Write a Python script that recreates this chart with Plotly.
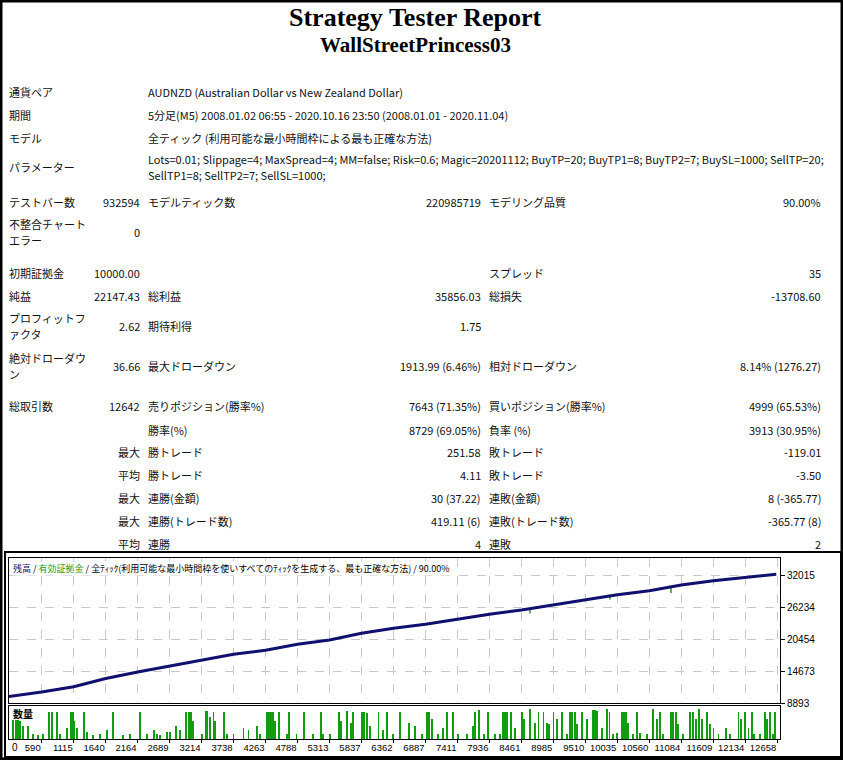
import plotly.graph_objects as go

W, H = 843, 760

# ---- report header data ----
title = 'Strategy Tester Report'
subtitle = 'WallStreetPrincess03'

info_labels = ['通貨ペア', '期間', 'モデル', 'パラメーター']
info_values = [
    'AUDNZD (Australian Dollar vs New Zealand Dollar)',
    '5分足(M5) 2008.01.02 06:55 - 2020.10.16 23:50 (2008.01.01 - 2020.11.04)',
    '全ティック (利用可能な最小時間枠による最も正確な方法)',
    'Lots=0.01; Slippage=4; MaxSpread=4; MM=false; Risk=0.6; Magic=20201112; BuyTP=20; BuyTP1=8; BuyTP2=7; BuySL=1000; SellTP=20;\n'
    'SellTP1=8; SellTP2=7; SellSL=1000;',
]

col1_labels = ['テストバー数', '不整合チャート\nエラー', '初期証拠金', '純益', 'プロフィットフ\nァクタ',
               '絶対ドローダウ\nン', '総取引数', '', '', '', '', '', '']
col1_values = ['932594', '0', '10000.00', '22147.43', '2.62', '36.66', '12642', '',
               '最大', '平均', '最大', '最大', '平均']
col2_labels = ['モデルティック数', '', '', '総利益', '期待利得', '最大ドローダウン', '売りポジション(勝率%)',
               '勝率(%)', '勝トレード', '勝トレード', '連勝(金額)', '連勝(トレード数)', '連勝']
col2_values = ['220985719', '', '', '35856.03', '1.75', '1913.99 (6.46%)', '7643 (71.35%)',
               '8729 (69.05%)', '251.58', '4.11', '30 (37.22)', '419.11 (6)', '4']
col3_labels = ['モデリング品質', '', 'スプレッド', '総損失', '', '相対ドローダウン', '買いポジション(勝率%)',
               '負率 (%)', '敗トレード', '敗トレード', '連敗(金額)', '連敗(トレード数)', '連敗']
col3_values = ['90.00%', '', '35', '-13708.60', '', '8.14% (1276.27)', '4999 (65.53%)',
               '3913 (30.95%)', '-119.01', '-3.50', '8 (-365.77)', '-365.77 (8)', '2']

# ---- chart data ----
bal_trades = [0, 590, 1115, 1640, 2164, 2689, 3214, 3738, 4263, 4788, 5313, 5837, 6362,
              6887, 7411, 7936, 8461, 8985, 9510, 10035, 10560, 11084, 11609, 12134, 12642]
bal_values = [10000, 10880, 11840, 13320, 14490, 15580, 16610, 17690, 18410, 19500, 20270, 21480, 22390,
              23110, 24010, 24920, 25690, 26600, 27500, 28460, 29180, 30210, 30990, 31600, 32147]

dip_trades = [8602, 9914, 10915]
dip_from = [25870, 28220, 30030]
dip_to = [25060, 27590, 28760]

vol_trades = [125, 163, 202, 240, 289, 371, 453, 535, 617, 716, 760, 836, 891, 1000, 1066, 1099,
              1121, 1165, 1285, 1328, 1438, 1547, 1657, 1766, 1930, 2039, 2203, 2313, 2433, 2477,
              2531, 2641, 2695, 2794, 2859, 2958, 3002, 3045, 3078, 3215, 3286, 3308, 3352, 3407,
              3434, 3582, 3625, 3735, 3899, 3981, 4117, 4172, 4281, 4314, 4347, 4390, 4423, 4478,
              4609, 4653, 4773, 4894, 5047, 5167, 5211, 5320, 5463, 5495, 5594, 5659, 5692, 5845,
              5878, 5922, 5976, 6118, 6195, 6250, 6359, 6468, 6621, 6709, 6824, 6917, 6950, 6988,
              7098, 7180, 7245, 7344, 7426, 7563, 7661, 7699, 7770, 7847, 7918, 8028, 8110, 8153,
              8192, 8230, 8285, 8356, 8465, 8503, 8602, 8684, 8739, 8821, 8875, 8919, 8985, 9039,
              9121, 9203, 9258, 9285, 9340, 9378, 9449, 9531, 9641, 9668, 9696, 9778, 9860, 9904,
              9958, 10024, 10106, 10144, 10177, 10215, 10297, 10352, 10407, 10516, 10625, 10680,
              10735, 10789, 10910, 10953, 10997, 11035, 11117, 11227, 11270, 11325, 11380, 11418,
              11500, 11555, 11610, 11692, 11818, 11883, 12020, 12058, 12129, 12184, 12239, 12277,
              12375, 12457, 12485, 12540, 12583, 12622]
vol_values = [4.2, 4.2, 4.2, 4.0, 2.8, 2.8, 1.2, 0.8, 1.0, 6, 6, 6, 1.2, 2.4, 6, 6,
              4, 2.4, 6, 1.6, 0.8, 1.2, 2, 6, 0.8, 1, 6, 1.2, 2, 1.2,
              0.8, 1.6, 1.6, 2.8, 2, 6, 6, 6, 4, 1, 6.2, 6.2, 4.8, 6,
              4, 6, 1.2, 1, 2.4, 2, 2.8, 1.2, 6, 6, 6, 6, 4, 6,
              1.2, 6, 1, 6, 1, 6, 1.2, 1.2, 6, 4, 6.2, 3.6, 6, 6,
              6, 5.6, 2.8, 6, 2, 6, 1.2, 6, 3.6, 2.8, 1, 6, 6, 4.4,
              1, 2.4, 6, 6, 1, 1, 2.8, 6, 6.4, 1.2, 6, 1, 1.2, 6,
              6, 6, 6, 2.4, 6, 4.4, 6.6, 3.6, 6, 6, 3.6, 3.2, 6, 4.4,
              6, 1, 6, 6, 6, 3.2, 6, 4.4, 6.4, 6.4, 6.2, 2.4, 6.6, 6,
              1.2, 1.4, 6, 6, 6, 3.6, 1, 6, 1.4, 1, 6.6, 4.4,
              6, 1, 6, 6, 6, 3.2, 1, 6, 6, 4.4, 6.6, 4.4,
              6, 3.2, 2.4, 1, 2.4, 1, 6, 4.4, 6, 2.4, 6, 1,
              1, 6, 4.4, 6, 1, 6]

x_ticks = [590, 1115, 1640, 2164, 2689, 3214, 3738, 4263, 4788, 5313, 5837, 6362, 6887,
           7411, 7936, 8461, 8985, 9510, 10035, 10560, 11084, 11609, 12134, 12658]
y_ticks = [8893, 14673, 20454, 26234, 32015]

legend_text = ('<span style="color:#10106e">残高</span> / <span style="color:#1a9a1a">有効証拠金</span>'
               ' / 全ﾃｨｯｸ(利用可能な最小時間枠を使いすべてのﾃｨｯｸを生成する、最も正確な方法) / 90.00%')

JP = 'Noto Sans CJK JP'
SERIF = 'Liberation Serif'
TICKF = 'Liberation Sans'


def px(x):
    return x / W


def py(y):
    return 1 - y / H


annotations = []


def text(x, y, s, anchor='left', size=11, family=JP, color='#111111', bg=None):
    a = dict(x=px(x), y=py(y), xref='paper', yref='paper', text=s, showarrow=False,
             xanchor=anchor, yanchor='middle', borderpad=0,
             font=dict(family=family, size=size, color=color))
    if bg:
        a['bgcolor'] = bg
    annotations.append(a)


def multiline(x, y, s, anchor='left'):
    lines = s.split('\n')
    if len(lines) == 1:
        text(x, y, s, anchor)
    else:
        for i, ln in enumerate(lines):
            text(x, y + (i - (len(lines) - 1) / 2) * 16, ln, anchor)


# header
text(415, 17, '<b>' + title + '</b>', 'center', 26, SERIF, 'black')
text(415, 45, '<b>' + subtitle + '</b>', 'center', 21, SERIF, 'black')

info_y = [92, 115, 138, 167]
for lab, val, y in zip(info_labels, info_values, info_y):
    text(8, y, lab)
    multiline(147, y, val)

row_y = [202, 232, 273, 296, 326, 366, 406, 430, 452, 475, 498, 521, 544]
for i, y in enumerate(row_y):
    multiline(8, y, col1_labels[i])
    multiline(141, y, col1_values[i], 'right')
    multiline(147, y, col2_labels[i])
    multiline(482, y, col2_values[i], 'right')
    multiline(488, y, col3_labels[i])
    multiline(822, y, col3_values[i], 'right')

# chart overlay texts
text(12, 568, legend_text, 'left', 9, JP, 'black', bg='white')
text(12, 713, '<b>数量</b>', 'left', 10, JP, 'black')
text(11, 747, '0', 'left', 10, TICKF, 'black')

fig = go.Figure()

# equity dips (green) under balance line
dx, dy = [], []
for t, a, b in zip(dip_trades, dip_from, dip_to):
    dx += [t, t, None]
    dy += [a, b, None]
fig.add_trace(go.Scatter(x=dx, y=dy, mode='lines', line=dict(color='#22a022', width=1.5),
                         hoverinfo='skip', showlegend=False))
fig.add_trace(go.Scatter(x=bal_trades, y=bal_values, mode='lines',
                         line=dict(color='#10106e', width=3), showlegend=False, name='残高'))
fig.add_trace(go.Bar(x=vol_trades, y=vol_values, width=12, marker=dict(color='#119c11', line=dict(width=0)),
                     xaxis='x2', yaxis='y2', showlegend=False, name='数量'))

xr = [54, 12703]
xdom = [px(9), px(780)]
grid = dict(showgrid=True, gridcolor='#c8c8c8', griddash='dash', gridwidth=1)
frame = dict(showline=True, mirror=True, linecolor='black', linewidth=1, zeroline=False, automargin=False)

fig.update_layout(
    width=W, height=H,
    margin=dict(l=0, r=0, t=0, b=0, pad=0),
    paper_bgcolor='white', plot_bgcolor='white',
    showlegend=False, bargap=0,
    xaxis=dict(domain=xdom, range=xr, tickvals=x_ticks, showticklabels=False, ticks='',
               anchor='y', **grid, **frame),
    yaxis=dict(domain=[py(703), py(558)], range=[8893, 35086], tickvals=y_ticks, side='right',
               ticks='outside', ticklen=4, tickcolor='black', anchor='x', tickformat='d',
               tickfont=dict(family=TICKF, size=10, color='black'), **grid, **frame),
    xaxis2=dict(domain=xdom, range=xr, tickvals=x_ticks, ticks='outside', ticklen=3, tickcolor='black',
                ticklabelposition='outside left', anchor='y2', showgrid=False, tickformat='d',
                tickangle=0, tickfont=dict(family=TICKF, size=9.5, color='black'), **frame),
    yaxis2=dict(domain=[py(739), py(706)], range=[0, 7.2], showticklabels=False, ticks='',
                showgrid=False, anchor='x2', **frame),
    annotations=annotations,
    shapes=[
        # outer page frame
        dict(type='rect', xref='paper', yref='paper', x0=0, x1=1, y0=0, y1=1,
             line=dict(color='black', width=5)),
        # chart image frame
        dict(type='rect', xref='paper', yref='paper', x0=px(5), x1=px(841), y0=py(757), y1=py(552),
             line=dict(color='black', width=2)),
    ],
)

page_css = ("var s='margin:0;padding:0;overflow:hidden;height:760px;';"
            "document.documentElement.style.cssText=s;document.body.style.cssText=s;")
fig.write_html('out.html', config={'displayModeBar': False}, post_script=page_css)
